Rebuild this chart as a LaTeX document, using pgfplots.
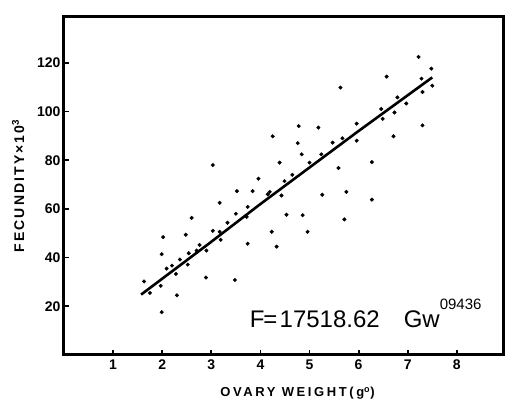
\documentclass[border=0pt]{standalone}
\usepackage{fontspec}
\setmainfont{Liberation Sans}
\usepackage{pgfplots}
\pgfplotsset{compat=1.18}
\begin{document}
\begin{tikzpicture}
\begin{axis}[
  scale only axis,
  width=439pt, height=338pt,
  xmin=0, xmax=8.94, ymin=0, ymax=138.8,
  xtick={1,2,3,4,5,6,7,8},
  ytick={20,40,60,80,100,120},
  xtick pos=left, ytick pos=left,
  tick align=inside,
  major tick length=5pt,
  axis line style={line width=3pt},
  tick style={line width=1.8pt, black},
  /pgf/number format/assume math mode=true,
  tick label style={font=\fontsize{14}{14}\selectfont\bfseries},
  xticklabel style={yshift=-1pt},
  xlabel={OVARY WEIGHT(g\textsuperscript{o})},
  xlabel style={font=\fontsize{13}{13}\selectfont\bfseries\addfontfeature{LetterSpace=20}, xshift=14pt, yshift=-11pt},
  ylabel={FECUNDITY×10\textsuperscript{3}},
  ylabel style={font=\fontsize{14}{14}\selectfont\bfseries\addfontfeature{LetterSpace=15}, yshift=6pt},
  clip=false,
]
\addplot[only marks, mark=*, mark size=1.8pt, black] coordinates {
(1.63,30.2)(1.75,25.5)(1.97,28.4)(1.99,17.6)(1.99,41.4)(2.02,48.4)(2.09,35.5)(2.2,36.7)(2.28,33.3)(2.3,24.5)(2.36,39.2)(2.48,49.4)(2.52,37.1)(2.54,41.8)(2.6,56.3)(2.7,42.9)(2.76,45.2)(2.89,31.8)(2.9,42.9)(3.03,78)(3.03,51)(3.17,62.5)(3.17,50.6)(3.19,47.3)(3.33,54.3)(3.48,30.8)(3.5,58)(3.52,67.3)(3.72,56.7)(3.74,45.7)(3.74,60.8)(3.84,67.3)(3.96,72.4)(4.15,66)(4.19,67)(4.23,50.6)(4.25,89.8)(4.33,44.5)(4.39,79)(4.43,65.5)(4.49,71.4)(4.53,57.6)(4.65,74)(4.76,87)(4.78,94)(4.84,82.4)(4.86,57.4)(4.96,50.6)(5.0,79)(5.18,93.4)(5.24,82.4)(5.26,65.8)(5.47,87.2)(5.59,76.8)(5.63,109.8)(5.67,89)(5.71,55.7)(5.75,67)(5.96,95)(5.96,88)(6.27,79.2)(6.27,63.8)(6.46,101)(6.49,97)(6.57,114.3)(6.71,89.8)(6.73,99.6)(6.79,105.8)(6.97,103.3)(7.22,122.4)(7.28,113.5)(7.3,108)(7.3,94.3)(7.48,117.6)(7.5,110.6)
};
\addplot[black, line width=2.6pt] coordinates {
(1.57,24.8)(3,46.5)(4,62)(5,77)(6,92)(7.5,114)
};
\node[anchor=base west, inner sep=0pt, font=\fontsize{24}{24}\selectfont] at (axis cs:3.78,11.4)
  {F\kern-0.05em=\kern0.1em17518.62\hspace{1em}Gw\raisebox{18pt}{\fontsize{15}{15}\selectfont 09436}};
\end{axis}
\pgfresetboundingbox
\path[use as bounding box] ([shift={(-64pt,-57pt)}]current axis.south west) rectangle ([shift={(4pt,17pt)}]current axis.north east);
\end{tikzpicture}
\end{document}
